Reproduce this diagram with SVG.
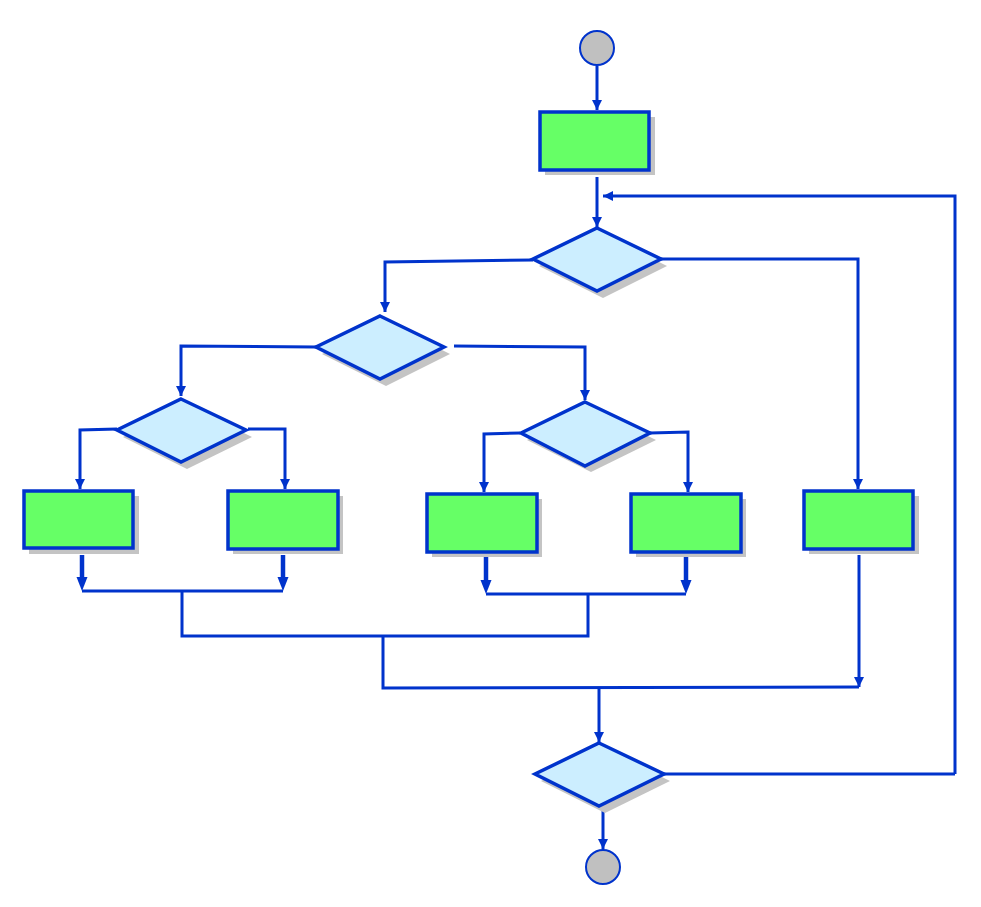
<svg xmlns="http://www.w3.org/2000/svg" width="981" height="907" viewBox="0 0 981 907">
<style>
.box{fill:#66FF66;stroke:#0033CC;stroke-width:3.5}
.dia{fill:#CCEEFF;stroke:#0033CC;stroke-width:3.5;stroke-linejoin:miter}
.sh{fill:#C4C4C4}
.term{fill:#C0C0C0;stroke:#0033CC;stroke-width:2}
.ln{fill:none;stroke:#0033CC;stroke-width:3}
.thick{fill:none;stroke:#0033CC;stroke-width:4.5}
</style>
<defs>
<marker id="ah" viewBox="0 0 10 14" refX="10" refY="7" markerWidth="10" markerHeight="14" markerUnits="userSpaceOnUse" orient="auto">
<path d="M0,2 L10,7 L0,12 Z" fill="#0033CC"/>
</marker>
<marker id="ahb" viewBox="0 0 14 14" refX="2" refY="7" markerWidth="14" markerHeight="14" markerUnits="userSpaceOnUse" orient="auto">
<path d="M0,1.5 L14,7 L0,12.5 Z" fill="#0033CC"/>
</marker>
</defs>
<rect width="981" height="907" fill="#fff"/>
<g id="connectors">
<path class="ln" d="M597,66 V110" marker-end="url(#ah)"/>
<path class="ln" d="M597,177 V227" marker-end="url(#ah)"/>
<path class="ln" d="M955,774 V196 H603" marker-end="url(#ah)"/>
<path class="ln" d="M533,260 L385,262 V312" marker-end="url(#ah)"/>
<path class="ln" d="M661,259 H858 V489" marker-end="url(#ah)"/>
<path class="ln" d="M316,347 L181,346 V396" marker-end="url(#ah)"/>
<path class="ln" d="M454,346 L585,347 V400" marker-end="url(#ah)"/>
<path class="ln" d="M117,429 L80,430 V489" marker-end="url(#ah)"/>
<path class="ln" d="M248,429 L285,429 V489" marker-end="url(#ah)"/>
<path class="ln" d="M520,433 L484,434 V492" marker-end="url(#ah)"/>
<path class="ln" d="M650,433 L688,432 V492" marker-end="url(#ah)"/>
<path class="thick" d="M82,555 V579" marker-end="url(#ahb)"/>
<path class="thick" d="M283,555 V579" marker-end="url(#ahb)"/>
<path class="thick" d="M486,557 V582" marker-end="url(#ahb)"/>
<path class="thick" d="M686,557 V582" marker-end="url(#ahb)"/>
<path class="ln" d="M82,591 H283"/>
<path class="ln" d="M486,594 H686"/>
<path class="ln" d="M182,591 V636 H588 V594"/>
<path class="ln" d="M383,636 V688 L859,687"/>
<path class="ln" d="M859,555 V687" marker-end="url(#ah)"/>
<path class="ln" d="M599,687 V742" marker-end="url(#ah)"/>
<path class="ln" d="M664,774 H955"/>
<path class="ln" d="M603,810 V849" marker-end="url(#ah)"/>
</g>
<g id="start"><circle class="term" cx="597" cy="48" r="17"/></g>
<g id="box1"><rect class="sh" x="545" y="117" width="110" height="58"/><rect class="box" x="540" y="112" width="109" height="58"/></g>
<g id="dec1"><polygon class="sh" points="603,234 667,266 603,298 539,266"/><polygon class="dia" points="597,228 661,259 597,291 533,259"/></g>
<g id="dec2"><polygon class="sh" points="386,322 450,354 386,386 322,354"/><polygon class="dia" points="380,316 444,347 380,379 316,347"/></g>
<g id="dec3"><polygon class="sh" points="187,405 252,437 187,469 123,437"/><polygon class="dia" points="181,399 246,430 181,462 117,430"/></g>
<g id="dec4"><polygon class="sh" points="591,408 656,440 591,472 527,440"/><polygon class="dia" points="585,402 650,433 585,466 521,433"/></g>
<g id="box2"><rect class="sh" x="29" y="496" width="110" height="58"/><rect class="box" x="24" y="491" width="109" height="57"/></g>
<g id="box3"><rect class="sh" x="233" y="496" width="110" height="58"/><rect class="box" x="228" y="491" width="110" height="58"/></g>
<g id="box4"><rect class="sh" x="432" y="499" width="110" height="58"/><rect class="box" x="427" y="494" width="110" height="58"/></g>
<g id="box5"><rect class="sh" x="636" y="499" width="110" height="58"/><rect class="box" x="631" y="494" width="110" height="58"/></g>
<g id="box6"><rect class="sh" x="809" y="496" width="110" height="58"/><rect class="box" x="804" y="491" width="109" height="58"/></g>
<g id="dec5"><polygon class="sh" points="605,749 670,781 605,813 541,781"/><polygon class="dia" points="599,743 664,774 599,806 535,774"/></g>
<g id="end"><circle class="term" cx="603" cy="867" r="17"/></g>
</svg>
